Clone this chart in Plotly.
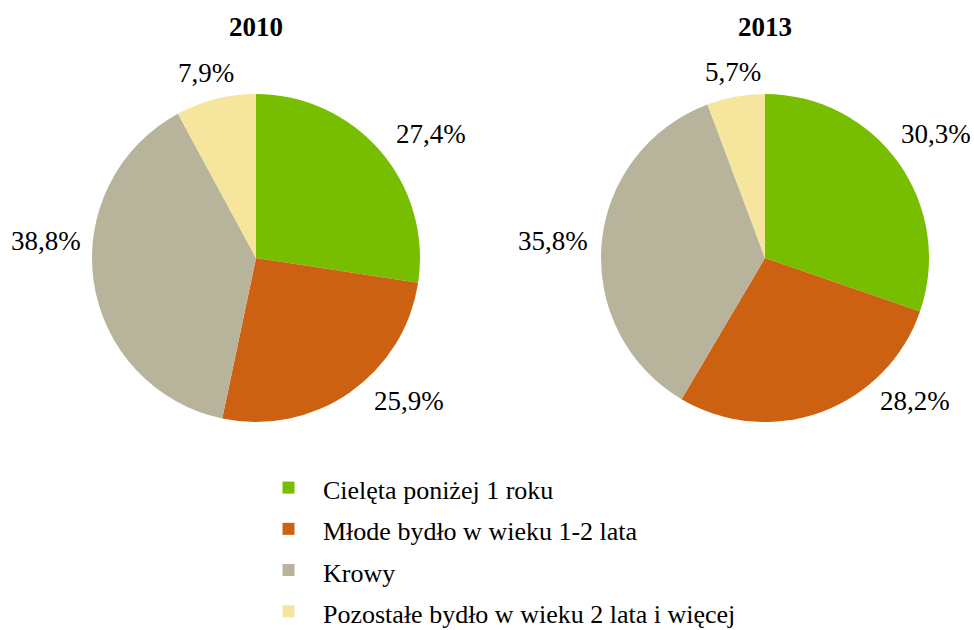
import plotly.graph_objects as go

# ---- data ----
categories = ["Cielęta poniżej 1 roku", "Młode bydło w wieku 1-2 lata", "Krowy",
              "Pozostałe bydło w wieku 2 lata i więcej"]
values_2010 = [27.4, 25.9, 38.8, 7.9]
values_2013 = [30.3, 28.2, 35.8, 5.7]
years = ["2010", "2013"]
colors = ["#78BE00", "#CC6112", "#B8B49C", "#F5E59D"]

# ---- layout ----
W, H = 974, 630
FONT = "Liberation Serif, Times New Roman, serif"
pie_centers = [(256, 258), (765, 258)]
R = 164
# label centre offsets from pie centre (px), per slice
label_offsets = [
    [(175, -124), (153, 143), (-210, -17), (-50, -185)],
    [(171, -124), (150, 143), (-212, -17), (-32, -186)],
]


def fmt(vals):
    return [f"{v:.1f}".replace(".", ",") + "%" for v in vals]


legend_labels = [f'<span style="font-size:26px">{c}</span>' for c in categories]

fig = go.Figure()
for i, (vals, yr) in enumerate(zip([values_2010, values_2013], years)):
    cx, cy = pie_centers[i]
    dom = dict(x=[(cx - R) / W, (cx + R) / W], y=[1 - (cy + R) / H, 1 - (cy - R) / H])
    fig.add_trace(go.Pie(
        labels=legend_labels, values=vals, textinfo="none",
        sort=False, direction="clockwise", rotation=0,
        marker=dict(colors=colors, line=dict(width=0)),
        domain=dom, showlegend=(i == 0), name=yr,
        hovertext=categories, hoverinfo="text+percent",
    ))
    fig.add_annotation(text=f"<b>{yr}</b>", x=cx / W, y=1 - 27 / H,
                       xref="paper", yref="paper", showarrow=False,
                       xanchor="center", yanchor="middle",
                       font=dict(family=FONT, size=27, color="#000000"))
    for txt, (dx, dy) in zip(fmt(vals), label_offsets[i]):
        fig.add_annotation(text=txt, x=(cx + dx) / W, y=1 - (cy + dy) / H,
                           xref="paper", yref="paper", showarrow=False,
                           xanchor="center", yanchor="middle",
                           font=dict(family=FONT, size=27, color="#000000"))

fig.update_layout(
    width=W, height=H, margin=dict(l=0, r=0, t=0, b=0, autoexpand=False),
    paper_bgcolor="#FFFFFF", plot_bgcolor="#FFFFFF",
    font=dict(family=FONT, size=26, color="#000000"),
    legend=dict(x=254 / W, y=1 - 462 / H, xanchor="left", yanchor="top",
                itemwidth=59,
                font=dict(family=FONT, size=29.4, color="#000000"),
                traceorder="normal", itemclick=False, itemdoubleclick=False,
                bgcolor="rgba(0,0,0,0)"),
)
fig.write_html("out.html", config={"displayModeBar": False},
               post_script="document.body.style.margin='0px';")
